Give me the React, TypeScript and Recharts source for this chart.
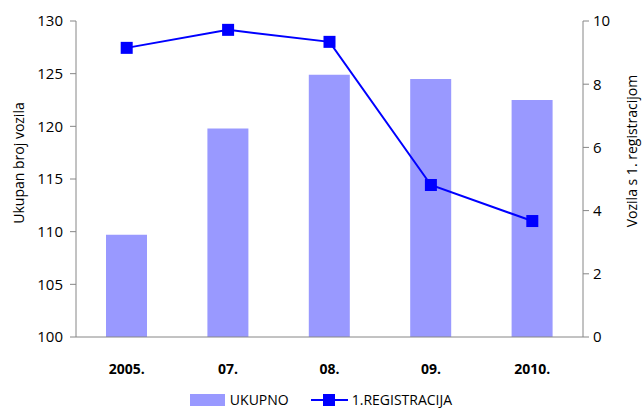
import { ComposedChart, Bar, Line, XAxis, YAxis } from "recharts";

const years = ["2005.", "07.", "08.", "09.", "2010."];
const ukupno = [109.7, 119.8, 124.9, 124.5, 122.5];
const registracija = [9.15, 9.72, 9.34, 4.81, 3.67];
const leftTicks = [100, 105, 110, 115, 120, 125, 130];
const rightTicks = [0, 2, 4, 6, 8, 10];
const edgeTicks = [0, 1, 2, 3, 4, 5];

const data = years.map((year, i) => ({
  year,
  ukupno: ukupno[i],
  registracija: registracija[i],
}));

const FONT = "'Open Sans', 'Noto Sans', sans-serif";
const AXIS = "#868686";
const BAR = "#9999FF";
const LINE = "#0000FF";

const SquareDot = (props: any) => {
  const { cx, cy } = props;
  if (cx == null || cy == null) return null;
  return <rect x={cx - 6} y={cy - 6} width={12} height={12} fill={LINE} />;
};

function LegendRow() {
  return (
    <div style={{
      position: "absolute", left: 0, top: 390, width: 642, display: "flex",
      justifyContent: "center", alignItems: "center", gap: 22,
      fontFamily: FONT, fontSize: 14, color: "#000",
    }}>
      <div style={{ display: "flex", alignItems: "center", gap: 5 }}>
        <span style={{ width: 35, height: 12, background: BAR, display: "inline-block" }} />
        <span>UKUPNO</span>
      </div>
      <div style={{ display: "flex", alignItems: "center", gap: 4 }}>
        <svg width={37} height={14}>
          <line x1={0} y1={7} x2={37} y2={7} stroke={LINE} strokeWidth={2} />
          <rect x={12} y={1} width={12} height={12} fill={LINE} />
        </svg>
        <span>1.REGISTRACIJA</span>
      </div>
    </div>
  );
}

export default function App() {
  return (
    <div style={{ position: "absolute", left: 0, top: 0, width: 642, height: 408, background: "#fff" }}>
      <ComposedChart
        width={642}
        height={408}
        data={data}
        margin={{ top: 21, right: 0, bottom: 0, left: 0 }}
        style={{ fontFamily: FONT }}
      >
        {/* boundary ticks between categories */}
        <XAxis
          xAxisId="a"
          type="number"
          domain={[0, 5]}
          ticks={edgeTicks}
          tick={false}
          height={1}
          stroke={AXIS}
          tickSize={6}
        />
        <XAxis
          xAxisId="b"
          dataKey="year"
          axisLine={false}
          tickLine={false}
          height={70}
          tickMargin={20}
          tick={{ fill: "#000", fontSize: 14, fontWeight: 700 }}
        />
        <YAxis
          yAxisId="left"
          domain={[100, 130]}
          ticks={leftTicks}
          width={76}
          stroke={AXIS}
          tickSize={6}
          tickMargin={7}
          tick={{ fill: "#000", fontSize: 15 }}
          label={{
            content: () => (
              <text x={24} y={163} transform="rotate(-90, 24, 163)" textAnchor="middle"
                fontFamily={FONT} fontSize={14} fill="#000">Ukupan broj vozila</text>
            ),
          }}
        />
        <YAxis
          yAxisId="right"
          orientation="right"
          domain={[0, 10]}
          ticks={rightTicks}
          width={59}
          stroke={AXIS}
          tickSize={6}
          tickMargin={4}
          tick={{ fill: "#000", fontSize: 15 }}
          label={{
            content: () => (
              <text x={637} y={151} transform="rotate(-90, 637, 151)" textAnchor="middle"
                fontFamily={FONT} fontSize={14} fill="#000">Vozila s 1. registracijom</text>
            ),
          }}
        />
        <Bar
          xAxisId="b"
          yAxisId="left"
          dataKey="ukupno"
          fill={BAR}
          barSize={41}
          isAnimationActive={false}
        />
        <Line
          xAxisId="b"
          yAxisId="right"
          dataKey="registracija"
          stroke={LINE}
          strokeWidth={2}
          dot={<SquareDot />}
          activeDot={false}
          isAnimationActive={false}
        />
      </ComposedChart>
      <LegendRow />
    </div>
  );
}
